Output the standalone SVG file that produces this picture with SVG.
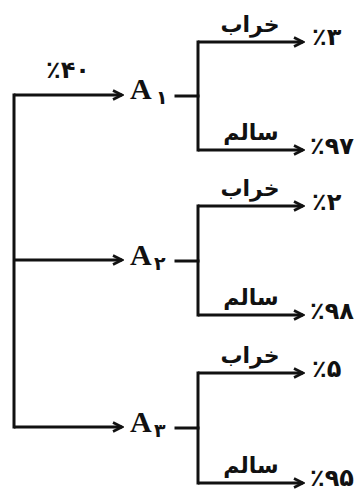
<svg xmlns="http://www.w3.org/2000/svg" width="363" height="493" viewBox="0 0 363 493">
  <style>
    .ln { fill: none; stroke: #111; stroke-width: 3; stroke-linecap: square; }
    .arw { fill: none; stroke: #111; stroke-width: 3; stroke-linecap: butt; marker-end: url(#head); }
    .node { font-family: "Liberation Serif", "Times New Roman", serif; font-weight: bold; font-size: 30px; fill: #111; }
    .sub { font-family: "DejaVu Sans", sans-serif; font-weight: bold; font-size: 19px; fill: #111; }
    .fa { font-family: "DejaVu Sans", sans-serif; font-weight: bold; font-size: 22px; fill: #111; text-anchor: middle; direction: rtl; }
    .pct { font-family: "DejaVu Sans", sans-serif; font-weight: bold; font-size: 24px; fill: #111; direction: ltr; unicode-bidi: bidi-override; }
  </style>
  <defs>
    <marker id="head" viewBox="0 0 12 12" refX="10" refY="6" markerWidth="12" markerHeight="12" markerUnits="userSpaceOnUse" orient="auto">
      <path d="M1,1.5 L10,6 L1,10.5" fill="none" stroke="#111" stroke-width="2.6" stroke-linejoin="miter"/>
    </marker>
  </defs>

  <!-- connectors -->
  <g id="connectors">
    <!-- root trunk -->
    <path class="ln" d="M14,95 V427"/>
    <path class="arw" d="M14,95 H122"/>
    <path class="arw" d="M14,260 H122"/>
    <path class="arw" d="M14,427 H122"/>
    <!-- A1 branches -->
    <path class="ln" d="M176,96 H198"/>
    <path class="ln" d="M198,42 V150"/>
    <path class="arw" d="M198,42 H303"/>
    <path class="arw" d="M198,150 H303"/>
    <!-- A2 branches -->
    <path class="ln" d="M176,261 H198"/>
    <path class="ln" d="M198,206 V315"/>
    <path class="arw" d="M198,206 H303"/>
    <path class="arw" d="M198,315 H303"/>
    <!-- A3 branches -->
    <path class="ln" d="M176,428 H198"/>
    <path class="ln" d="M198,373 V483"/>
    <path class="arw" d="M198,373 H303"/>
    <path class="arw" d="M198,483 H303"/>
  </g>

  <!-- edge labels -->
  <g id="edge-labels">
    <text class="pct" x="46" y="78">٪۴۰</text>
    <text class="fa" x="250" y="32">خراب</text>
    <text class="fa" x="251" y="140">سالم</text>
    <text class="fa" x="250" y="196">خراب</text>
    <text class="fa" x="251" y="305">سالم</text>
    <text class="fa" x="250" y="363">خراب</text>
    <text class="fa" x="251" y="473">سالم</text>
  </g>

  <g id="A1">
    <text class="node" x="130" y="99">A</text>
    <text class="sub" x="156" y="104">۱</text>
  </g>
  <g id="A2">
    <text class="node" x="130" y="265">A</text>
    <text class="sub" x="154" y="270">۲</text>
  </g>
  <g id="A3">
    <text class="node" x="130" y="432">A</text>
    <text class="sub" x="154" y="437">۳</text>
  </g>

  <g id="A1-defective"><text class="pct" x="312" y="45">٪۳</text></g>
  <g id="A1-sound"><text class="pct" x="310" y="154">٪۹۷</text></g>
  <g id="A2-defective"><text class="pct" x="312" y="210">٪۲</text></g>
  <g id="A2-sound"><text class="pct" x="310" y="319">٪۹۸</text></g>
  <g id="A3-defective"><text class="pct" x="312" y="377">٪۵</text></g>
  <g id="A3-sound"><text class="pct" x="310" y="486">٪۹۵</text></g>
</svg>
